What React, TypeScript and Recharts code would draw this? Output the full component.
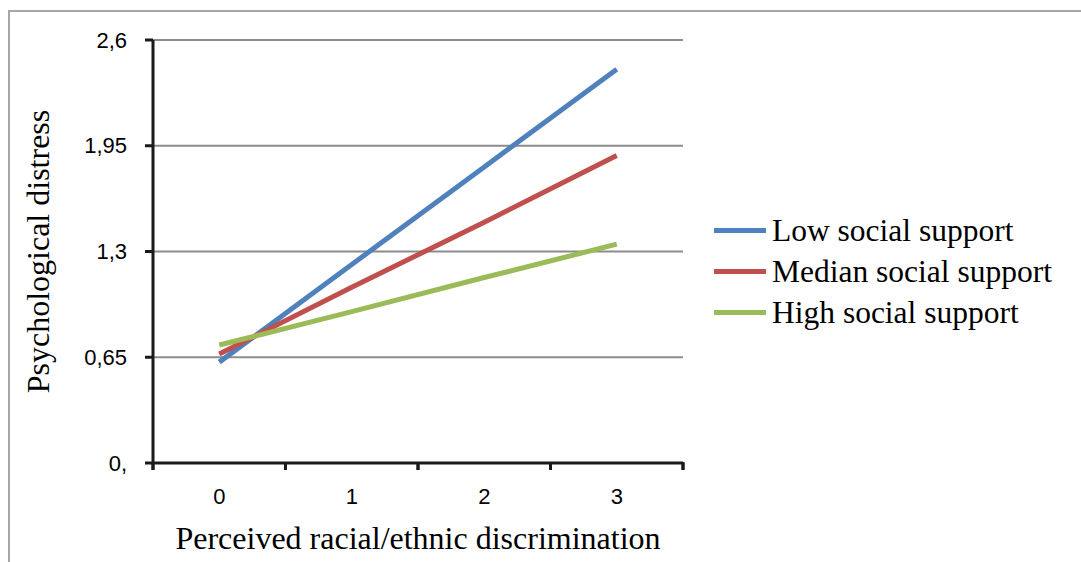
import React from "react";
import { LineChart, Line, XAxis, YAxis, CartesianGrid, Legend, Label } from "recharts";

const categories = [0, 1, 2, 3];
const lowSupport = [0.62, 1.22, 1.82, 2.42];
const medianSupport = [0.67, 1.08, 1.48, 1.89];
const highSupport = [0.725, 0.93, 1.14, 1.345];
const yTicks = [0, 0.65, 1.3, 1.95, 2.6];
const yTickLabels = ["0,", "0,65", "1,3", "1,95", "2,6"];
const xBoundaryTicks = [-0.5, 0.5, 1.5, 2.5, 3.5];

const seriesNames = ["Low social support", "Median social support", "High social support"];
const seriesColors = ["#4F81BD", "#C0504D", "#9BBB59"];
const seriesKeys = ["low", "median", "high"];

const data = categories.map((c, i) => ({
  x: c,
  low: lowSupport[i],
  median: medianSupport[i],
  high: highSupport[i],
}));

const serif = "'Liberation Serif', 'Times New Roman', serif";
const sans = "'Liberation Sans', Arial, sans-serif";

const LegendContent = () => (
  <div style={{ fontFamily: serif, fontSize: 31.5, color: "#000" }}>
    {seriesNames.map((n, i) => (
      <div key={n} style={{ display: "flex", alignItems: "center", height: 41 }}>
        <div style={{ width: 52, height: 5, background: seriesColors[i], marginRight: 6 }} />
        <span style={{ lineHeight: "41px", whiteSpace: "nowrap" }}>{n}</span>
      </div>
    ))}
  </div>
);

const XMarkTick = (props: any) => {
  const { x, y } = props;
  return <line x1={x} x2={x} y1={y - 8} y2={y} stroke="#1a1a1a" strokeWidth={3} />;
};

const XLabelTick = (props: any) => {
  const { x, y, payload } = props;
  return (
    <text x={x} y={y} dy={16} textAnchor="middle" fill="#000" fontFamily={sans} fontSize={22}>
      {String(payload.value)}
    </text>
  );
};

const YLabelTick = (props: any) => {
  const { x, y, payload } = props;
  const label = yTickLabels[yTicks.indexOf(payload.value)] ?? String(payload.value);
  return (
    <text x={x} y={y} dy={7.5} textAnchor="end" fill="#000" fontFamily={sans} fontSize={22}>
      {label}
    </text>
  );
};

export default function App() {
  return (
    <div
      style={{
        position: "fixed",
        left: 0,
        top: 0,
        width: 1081,
        height: 562,
        background: "#fff",
        overflow: "hidden",
      }}
    >
      <div
        style={{
          position: "absolute",
          left: 8,
          top: 10,
          width: 1200,
          height: 700,
          border: "2px solid #a6a6a6",
          boxSizing: "border-box",
        }}
      />
      <div style={{ position: "absolute", left: 0, top: 0 }}>
        <LineChart
          width={1081}
          height={562}
          data={data}
          margin={{ top: 40, right: 398, bottom: 9, left: 8 }}
        >
          <CartesianGrid horizontal={true} vertical={false} stroke="#8c8c8c" strokeWidth={2} />
          <XAxis
            xAxisId="b_labels"
            type="number"
            dataKey="x"
            domain={[-0.5, 3.5]}
            ticks={categories}
            interval={0}
            height={89}
            axisLine={false}
            tickLine={false}
            tickSize={7}
            tickMargin={17}
            tick={<XLabelTick />}
            allowDataOverflow
          >
            <Label
              value="Perceived racial/ethnic discrimination"
              position="insideBottom"
              offset={4}
              style={{ fontFamily: serif, fontSize: 32, fill: "#000" }}
            />
          </XAxis>
          <XAxis
            xAxisId="a_marks"
            type="number"
            dataKey="x"
            domain={[-0.5, 3.5]}
            ticks={xBoundaryTicks}
            interval={0}
            tick={<XMarkTick />}
            tickSize={7}
            tickMargin={0}
            height={1}
            axisLine={{ stroke: "#1a1a1a", strokeWidth: 3 }}
            tickLine={{ stroke: "#1a1a1a", strokeWidth: 3 }}
            allowDataOverflow
          />
          <YAxis
            type="number"
            domain={[0, 2.6]}
            ticks={yTicks}
            interval={0}
            width={145}
            tickSize={8}
            tickMargin={18}
            axisLine={{ stroke: "#1a1a1a", strokeWidth: 3 }}
            tickLine={{ stroke: "#1a1a1a", strokeWidth: 3 }}
            tick={<YLabelTick />}
          >
            <Label
              value="Psychological distress"
              angle={-90}
              position="insideLeft"
              offset={30}
              style={{ fontFamily: serif, fontSize: 32, fill: "#000", textAnchor: "middle" }}
            />
          </YAxis>
          {seriesKeys.map((k, i) => (
            <Line
              key={k}
              xAxisId="b_labels"
              type="linear"
              dataKey={k}
              name={seriesNames[i]}
              stroke={seriesColors[i]}
              strokeWidth={5}
              dot={false}
              activeDot={false}
              isAnimationActive={false}
            />
          ))}
          <Legend
            layout="horizontal"
            align="center"
            verticalAlign="middle"
            content={<LegendContent />}
            wrapperStyle={{ left: 714, top: 210, width: 367 }}
          />
        </LineChart>
      </div>
    </div>
  );
}
